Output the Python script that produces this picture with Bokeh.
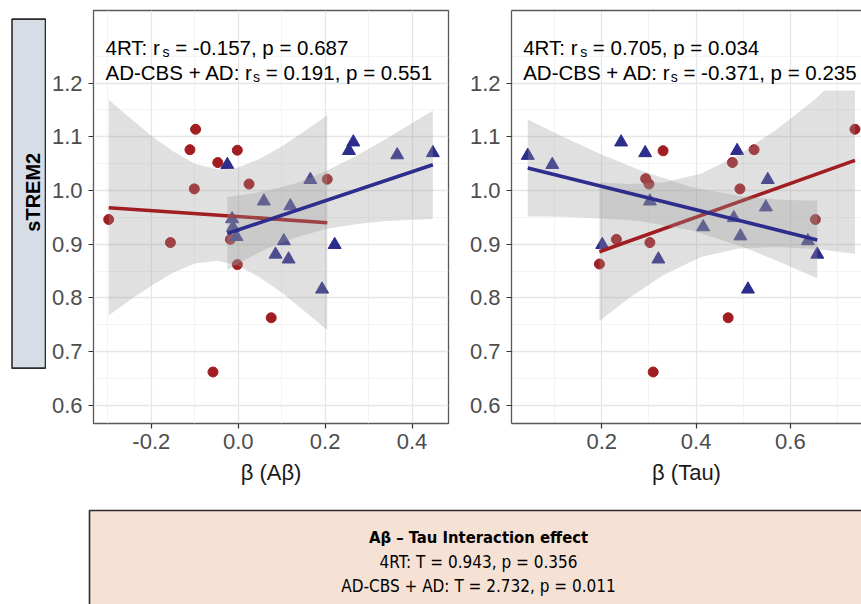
from bokeh.plotting import figure
from bokeh.layouts import row, column
from bokeh.models import Range1d, FixedTicker, Label, LinearAxis, PrintfTickFormatter
from bokeh.embed import file_html
from bokeh.resources import INLINE

# ---------------- data ----------------
# Panel 1: beta (Abeta) vs sTREM2
ab_4rt_x = [-0.298, -0.156, -0.098, -0.111, -0.101, -0.047, -0.002, 0.025, -0.018, -0.002, 0.205, 0.076, -0.058]
ab_4rt_y = [0.946, 0.903, 1.114, 1.076, 1.003, 1.052, 1.075, 1.012, 0.909, 0.862, 1.021, 0.763, 0.662]
ab_ad_x = [-0.025, -0.014, -0.012, -0.004, 0.059, 0.120, 0.166, 0.105, 0.086, 0.116, 0.222, 0.193, 0.255, 0.265, 0.366, 0.448]
ab_ad_y = [1.048, 0.947, 0.931, 0.914, 0.980, 0.971, 1.020, 0.906, 0.881, 0.872, 0.899, 0.816, 1.074, 1.090, 1.066, 1.070]

ab_4rt_fit_x = [-0.298, 0.205]
ab_4rt_fit_y = [0.968, 0.940]
ab_ad_fit_x = [-0.025, 0.448]
ab_ad_fit_y = [0.920, 1.048]

ab_4rt_band_x = [-0.298, -0.24, -0.197, -0.15, -0.10, -0.047, 0.0, 0.05, 0.10, 0.15, 0.205]
ab_4rt_band_hi = [1.169, 1.129, 1.100, 1.073, 1.050, 1.039, 1.043, 1.059, 1.082, 1.109, 1.140]
ab_4rt_band_lo = [0.767, 0.801, 0.824, 0.847, 0.864, 0.869, 0.860, 0.838, 0.810, 0.777, 0.740]
ab_ad_band_x = [-0.025, 0.02, 0.07, 0.135, 0.204, 0.27, 0.34, 0.448]
ab_ad_band_hi = [0.988, 0.993, 1.000, 1.014, 1.037, 1.064, 1.096, 1.149]
ab_ad_band_lo = [0.852, 0.873, 0.893, 0.913, 0.929, 0.937, 0.943, 0.947]

# Panel 2: beta (Tau) vs sTREM2
tau_4rt_x = [0.195, 0.231, 0.302, 0.293, 0.300, 0.330, 0.477, 0.493, 0.523, 0.653, 0.737, 0.468, 0.309]
tau_4rt_y = [0.863, 0.909, 0.903, 1.022, 1.012, 1.074, 1.052, 1.003, 1.076, 0.946, 1.114, 0.763, 0.662]
tau_ad_x = [0.043, 0.095, 0.201, 0.241, 0.292, 0.302, 0.320, 0.415, 0.480, 0.487, 0.494, 0.510, 0.552, 0.548, 0.637, 0.657]
tau_ad_y = [1.065, 1.048, 0.899, 1.090, 1.070, 0.980, 0.872, 0.932, 0.949, 1.074, 0.915, 0.816, 1.020, 0.969, 0.906, 0.881]

tau_4rt_fit_x = [0.195, 0.737]
tau_4rt_fit_y = [0.886, 1.056]
tau_ad_fit_x = [0.043, 0.657]
tau_ad_fit_y = [1.042, 0.908]

tau_4rt_band_x = [0.195, 0.26, 0.33, 0.41, 0.49, 0.57, 0.65, 0.672, 0.70, 0.737]
tau_4rt_band_hi = [1.015, 1.012, 1.015, 1.031, 1.066, 1.113, 1.168, 1.186, 1.186, 1.186]
tau_4rt_band_lo = [0.757, 0.801, 0.842, 0.876, 0.892, 0.895, 0.891, 0.889, 0.886, 0.882]
tau_ad_band_x = [0.043, 0.12, 0.195, 0.28, 0.39, 0.50, 0.58, 0.657]
tau_ad_band_hi = [1.132, 1.099, 1.069, 1.038, 1.006, 0.989, 0.983, 0.981]
tau_ad_band_lo = [0.952, 0.951, 0.948, 0.943, 0.926, 0.895, 0.866, 0.836]

y_ticks = [0.6, 0.7, 0.8, 0.9, 1.0, 1.1, 1.2]
y_minor = [0.65, 0.75, 0.85, 0.95, 1.05, 1.15, 1.25]
ab_ticks = [-0.2, 0.0, 0.2, 0.4]
ab_minor = [-0.3, -0.1, 0.1, 0.3]
tau_ticks = [0.2, 0.4, 0.6]
tau_minor = [0.1, 0.3, 0.5, 0.7]

ab_stats = [("4RT: r", "= -0.157, p = 0.687"), ("AD-CBS + AD: r", "= 0.191, p = 0.551")]
tau_stats = [("4RT: r", "= 0.705, p = 0.034"), ("AD-CBS + AD: r", "= -0.371, p = 0.235")]

y_title = "sTREM2"
ab_title = "β (Aβ)"
tau_title = "β (Tau)"
box_title = "Aβ – Tau Interaction effect"
box_lines = ["4RT: T = 0.943, p = 0.356", "AD-CBS + AD: T = 2.732, p = 0.011"]

# ---------------- style ----------------
RED = "#a11d21"
BLUE = "#2c2d8c"
BAND = "#999999"
FONT = "Liberation Sans"
NARROW = "DejaVu Sans Condensed, Liberation Sans Narrow, sans-serif"
BORDER = "#595959"
MAIN_SIZE = 20.5
SUB_SIZE = 14

ARIAL_W = {' ': 278, '4': 556, 'R': 722, 'T': 611, ':': 278, 'r': 333, 'A': 667, 'D': 722,
           '-': 333, 'C': 722, 'B': 667, 'S': 667, '+': 584, 's': 500}


def tw(s, size):
    return sum(ARIAL_W.get(c, 556) for c in s) * size / 1000.0


Y_RANGE = (0.5661, 1.3352)
H_TOP = 500


def make_panel(width, mbl, mbr, xr, ticks, minor, title, pts, fits, bands, stats, stat_x, own_border):
    p = figure(width=width, height=H_TOP, x_range=Range1d(*xr), y_range=Range1d(*Y_RANGE),
               output_backend="svg", toolbar_location=None,
               min_border_left=mbl, min_border_right=mbr, min_border_top=10, min_border_bottom=77)
    p.background_fill_color = "white"
    p.border_fill_color = "white"
    p.xaxis.ticker = FixedTicker(ticks=ticks, minor_ticks=minor)
    p.yaxis.ticker = FixedTicker(ticks=y_ticks, minor_ticks=y_minor)
    p.xgrid.ticker = FixedTicker(ticks=ticks, minor_ticks=minor)
    p.ygrid.ticker = FixedTicker(ticks=y_ticks, minor_ticks=y_minor)
    for g in (p.xgrid, p.ygrid):
        g.grid_line_color = "#e6e6e6"
        g.grid_line_width = 1.3
        g.minor_grid_line_color = "#f1f1f1"
        g.minor_grid_line_width = 0.8
    for ax in (p.xaxis, p.yaxis):
        ax.formatter = PrintfTickFormatter(format="%.1f")
        ax.major_label_text_font = FONT
        ax.major_label_text_font_size = "22px"
        ax.major_label_text_color = "#4d4d4d"
        ax.major_tick_line_color = "#333333"
        ax.major_tick_line_width = 1.2
        ax.major_tick_out = 5
        ax.major_tick_in = 0
        ax.minor_tick_line_color = None
    p.xaxis.major_label_standoff = 5
    p.yaxis.major_label_standoff = 6
    p.xaxis.axis_label = title
    p.xaxis.axis_label_text_font = FONT
    p.xaxis.axis_label_text_font_style = "normal"
    p.xaxis.axis_label_text_font_size = "22px"
    p.xaxis.axis_label_text_color = "#1a1a1a"
    p.xaxis.axis_label_standoff = 8
    if own_border:
        p.outline_line_color = BORDER
        p.outline_line_width = 1.3
        p.xaxis.axis_line_color = None
        p.yaxis.axis_line_color = None
    else:
        p.outline_line_color = None
        p.xaxis.axis_line_color = BORDER
        p.yaxis.axis_line_color = BORDER
        p.xaxis.axis_line_width = 1.3
        p.yaxis.axis_line_width = 1.3
        top = LinearAxis(ticker=FixedTicker(ticks=[]), axis_line_color=BORDER, axis_line_width=1.3,
                         major_tick_out=0, minor_tick_out=0, major_tick_in=0, minor_tick_in=0,
                         major_label_standoff=0)
        p.add_layout(top, "above")

    (rx, ry), (bx, by) = pts
    p.scatter(rx, ry, marker="circle", size=10, fill_color=RED, line_color=RED)
    p.scatter(bx, by, marker="triangle", size=13, fill_color=BLUE, line_color=BLUE)
    for (fx, fy), (bdx, hi, lo), col in zip(fits, bands, (RED, BLUE)):
        p.varea(x=bdx, y1=lo, y2=hi, fill_color=BAND, fill_alpha=0.3)
        p.line(fx, fy, line_color=col, line_width=3.6)

    for (prefix, rest), yb in zip(stats, (1.2669, 1.2203)):
        w = tw(prefix, MAIN_SIZE)
        common = dict(x=stat_x, y=yb, text_font=FONT, text_color="black", text_baseline="alphabetic")
        p.add_layout(Label(text=prefix, text_font_size=f"{MAIN_SIZE}px", **common))
        p.add_layout(Label(text="s", text_font_size=f"{SUB_SIZE}px", x_offset=w, y_offset=-4.5, **common))
        p.add_layout(Label(text=rest, text_font_size=f"{MAIN_SIZE}px",
                           x_offset=w + tw("s", SUB_SIZE) + tw(" ", MAIN_SIZE), **common))
    return p


p1 = make_panel(416, 47, 14, (-0.3330, 0.4840), ab_ticks, ab_minor, ab_title,
                ((ab_4rt_x, ab_4rt_y), (ab_ad_x, ab_ad_y)),
                ((ab_4rt_fit_x, ab_4rt_fit_y), (ab_ad_fit_x, ab_ad_fit_y)),
                ((ab_4rt_band_x, ab_4rt_band_hi, ab_4rt_band_lo), (ab_ad_band_x, ab_ad_band_hi, ab_ad_band_lo)),
                ab_stats, -0.3054, True)

p2 = make_panel(399, 49, 0, (0.0085, 0.7508), tau_ticks, tau_minor, tau_title,
                ((tau_4rt_x, tau_4rt_y), (tau_ad_x, tau_ad_y)),
                ((tau_4rt_fit_x, tau_4rt_fit_y), (tau_ad_fit_x, tau_ad_fit_y)),
                ((tau_4rt_band_x, tau_4rt_band_hi, tau_4rt_band_lo), (tau_ad_band_x, tau_ad_band_hi, tau_ad_band_lo)),
                tau_stats, 0.0333, False)

# strip with the y title
pl = figure(width=46, height=H_TOP, x_range=Range1d(0, 46), y_range=Range1d(H_TOP, 0),
            output_backend="svg", toolbar_location=None, x_axis_location=None, y_axis_location=None,
            min_border=0, outline_line_color=None)
pl.grid.visible = False
pl.quad(left=[11.5], right=[45], top=[10.5], bottom=[433], fill_color="#d6dde6",
        line_color="#2b2b2b", line_width=1.6)
pl.add_layout(Label(x=32.5, y=220, text=y_title, angle=1.5707963, text_align="center",
                    text_baseline="middle", text_font=FONT, text_font_style="bold",
                    text_font_size="20px", text_color="black"))

# bottom box
pb = figure(width=861, height=104, x_range=Range1d(0, 861), y_range=Range1d(104, 0),
            output_backend="svg", toolbar_location=None, x_axis_location=None, y_axis_location=None,
            min_border=0, outline_line_color=None)
pb.grid.visible = False
pb.quad(left=[89], right=[900], top=[10], bottom=[200], fill_color="#f6e1d5",
        line_color="#2b2b2b", line_width=1.6)
pb.add_layout(Label(x=478, y=37, text=box_title, text_align="center", text_baseline="middle",
                    text_font=NARROW, text_font_style="bold", text_font_size="16.5px", text_color="black"))
for txt, yy in zip(box_lines, (61, 85)):
    pb.add_layout(Label(x=478, y=yy, text=txt, text_align="center", text_baseline="middle",
                        text_font=NARROW, text_font_size="17px", text_color="black"))

layout = column(row(pl, p1, p2), pb)
open("out.html", "w").write(file_html(layout, INLINE))
